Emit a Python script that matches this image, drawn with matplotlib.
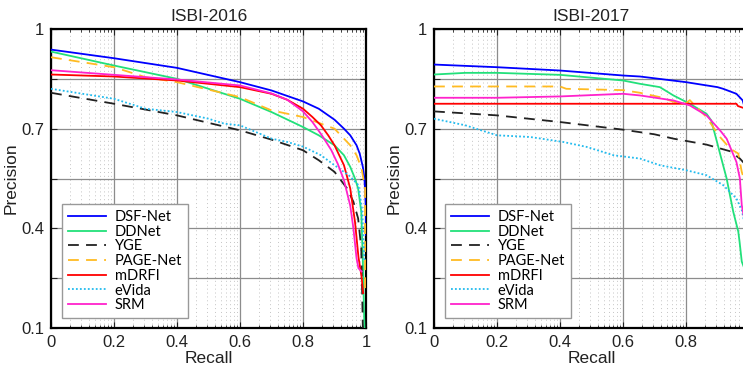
import matplotlib
matplotlib.use("Agg")
import matplotlib.pyplot as plt
import numpy as np

# ---- ISBI-2016 (recall, precision) ----
r16_dsf = [0, 0.2, 0.4, 0.6, 0.7, 0.8, 0.85, 0.9, 0.93, 0.95, 0.97, 0.98, 0.99, 0.995, 0.998, 1.0, 1.0]
p16_dsf = [0.938, 0.912, 0.883, 0.84, 0.815, 0.782, 0.76, 0.727, 0.70, 0.68, 0.65, 0.625, 0.585,
           0.55, 0.50, 0.45, 0.38]

r16_dd = [0, 0.2, 0.4, 0.6, 0.7, 0.8, 0.85, 0.9, 0.93, 0.95, 0.965, 0.975, 0.985, 0.99, 0.995]
p16_dd = [0.932, 0.89, 0.85, 0.79, 0.75, 0.705, 0.68, 0.65, 0.62, 0.585, 0.55, 0.52, 0.45, 0.3, 0.1]

r16_yge = [0, 0.2, 0.4, 0.6, 0.7, 0.8, 0.85, 0.9, 0.94, 0.96, 0.975, 0.985, 0.99]
p16_yge = [0.808, 0.775, 0.74, 0.695, 0.667, 0.635, 0.605, 0.57, 0.52, 0.48, 0.43, 0.34, 0.1]

r16_page = [0, 0.2, 0.3, 0.4, 0.6, 0.7, 0.8, 0.9, 0.93, 0.95, 0.97, 0.986, 0.997, 0.997]
p16_page = [0.915, 0.885, 0.855, 0.84, 0.795, 0.755, 0.735, 0.70, 0.67, 0.65, 0.62, 0.58, 0.52, 0.2]

r16_mdrfi = [0, 0.2, 0.4, 0.6, 0.7, 0.75, 0.8, 0.83, 0.857, 0.88, 0.9, 0.93, 0.95, 0.965, 0.976,
             0.986, 0.991]
p16_mdrfi = [0.863, 0.857, 0.845, 0.825, 0.805, 0.787, 0.76, 0.735, 0.71, 0.68, 0.65, 0.59, 0.52,
             0.42, 0.314, 0.254, 0.205]

r16_evida = [0, 0.1, 0.2, 0.3, 0.4, 0.5, 0.55, 0.6, 0.65, 0.7, 0.75, 0.8, 0.857, 0.9, 0.95,
             0.976, 0.987, 0.995]
p16_evida = [0.82, 0.805, 0.79, 0.76, 0.75, 0.73, 0.715, 0.71, 0.69, 0.67, 0.66, 0.646, 0.62,
             0.59, 0.556, 0.53, 0.46, 0.3]

r16_srm = [0, 0.2, 0.4, 0.6, 0.7, 0.75, 0.8, 0.83, 0.86, 0.89, 0.91, 0.93, 0.95, 0.96, 0.97,
           0.976, 0.986]
p16_srm = [0.876, 0.862, 0.848, 0.83, 0.806, 0.787, 0.752, 0.72, 0.68, 0.635, 0.595, 0.545,
           0.468, 0.40, 0.31, 0.28, 0.27]

# ---- ISBI-2017 ----
r17_dsf = [0, 0.2, 0.4, 0.6, 0.654, 0.8, 0.9, 0.918, 0.96, 0.98, 0.99, 1.0]
p17_dsf = [0.893, 0.885, 0.875, 0.86, 0.857, 0.84, 0.825, 0.82, 0.805, 0.785, 0.75, 0.6]

r17_dd = [0, 0.1, 0.2, 0.4, 0.6, 0.654, 0.717, 0.76, 0.812, 0.865, 0.88, 0.897, 0.908, 0.929,
          0.95, 0.966, 0.97, 0.977, 0.985, 1.0]
p17_dd = [0.863, 0.868, 0.868, 0.862, 0.845, 0.835, 0.825, 0.80, 0.775, 0.745, 0.725, 0.665,
          0.625, 0.55, 0.45, 0.39, 0.36, 0.30, 0.28, 0.25]

r17_yge = [0, 0.2, 0.4, 0.6, 0.7, 0.76, 0.865, 0.94, 0.971, 1.0]
p17_yge = [0.752, 0.74, 0.72, 0.697, 0.683, 0.67, 0.652, 0.632, 0.61, 0.58]

r17_page = [0, 0.2, 0.4, 0.42, 0.6, 0.654, 0.717, 0.77, 0.8, 0.812, 0.833, 0.865, 0.886, 0.908,
            0.94, 0.966, 0.977, 1.0]
p17_page = [0.827, 0.827, 0.827, 0.82, 0.816, 0.808, 0.795, 0.778, 0.776, 0.786, 0.765, 0.735,
            0.705, 0.675, 0.64, 0.625, 0.57, 0.5]

r17_mdrfi = [0, 0.2, 0.4, 0.6, 0.8, 0.96, 0.965, 0.99, 1.0]
p17_mdrfi = [0.775, 0.775, 0.775, 0.775, 0.775, 0.775, 0.768, 0.76, 0.4]

r17_evida = [0, 0.1, 0.2, 0.305, 0.41, 0.485, 0.57, 0.654, 0.717, 0.8, 0.865, 0.918, 0.96, 0.977, 1.0]
p17_evida = [0.73, 0.71, 0.68, 0.675, 0.66, 0.645, 0.62, 0.61, 0.59, 0.575, 0.56, 0.53, 0.49,
             0.455, 0.35]

r17_srm = [0, 0.2, 0.4, 0.6, 0.654, 0.76, 0.812, 0.865, 0.908, 0.929, 0.96, 0.971, 0.977, 1.0]
p17_srm = [0.793, 0.793, 0.797, 0.805, 0.80, 0.785, 0.77, 0.74, 0.695, 0.67, 0.60, 0.55, 0.47, 0.35]

METHODS = ["DSF-Net", "DDNet", "YGE", "PAGE-Net", "mDRFI", "eVida", "SRM"]
STYLES = {
    "DSF-Net": {"color": "#0000ff", "ls": "-"},
    "DDNet": {"color": "#22e07a", "ls": "-"},
    "YGE": {"color": "#222222", "ls": (0, (6, 4))},
    "PAGE-Net": {"color": "#ffbb22", "ls": (0, (6, 4))},
    "mDRFI": {"color": "#ff0000", "ls": "-"},
    "eVida": {"color": "#22bbee", "ls": (0, (1, 1.2))},
    "SRM": {"color": "#ff22cc", "ls": "-"},
}

DATA16 = [(r16_dsf, p16_dsf), (r16_dd, p16_dd), (r16_yge, p16_yge), (r16_page, p16_page),
          (r16_mdrfi, p16_mdrfi), (r16_evida, p16_evida), (r16_srm, p16_srm)]
DATA17 = [(r17_dsf, p17_dsf), (r17_dd, p17_dd), (r17_yge, p17_yge), (r17_page, p17_page),
          (r17_mdrfi, p17_mdrfi), (r17_evida, p17_evida), (r17_srm, p17_srm)]

X_LABELS = ["0", "0.2", "0.4", "0.6", "0.8", "1"]
Y_LABELS = ["0.1", "", "0.4", "", "0.7", "", "1"]

plt.rcParams['font.family'] = ['Liberation Sans', 'DejaVu Sans']

W, H = 743, 377


def draw_panel(ax, data, title, xlabels):
    for name, (r, p) in zip(METHODS, data):
        st = STYLES[name]
        ax.plot(r, p, color=st["color"], ls=st["ls"], lw=1.3, label=name, zorder=3)

    ax.set_xlim(0, 1)
    ax.set_ylim(0.1, 1)

    ax.set_xticks(np.arange(0, 1.01, 0.2))
    ax.set_xticklabels(xlabels)
    ax.set_yticks(np.arange(0.1, 1.001, 0.15))
    ax.set_yticklabels(Y_LABELS)

    # matlab-style log minor grid inside each 0.2 interval
    minors = [m + 0.2 * np.log10(k) for m in np.arange(0, 1.0, 0.2) for k in range(2, 10)]
    ax.set_xticks(minors, minor=True)

    ax.grid(True, which="major", color="#8c8c8c", lw=0.9, zorder=1)
    ax.grid(True, which="minor", axis="x", color="#c4c4c4", ls=(0, (1, 3)), lw=0.7, zorder=1)
    ax.tick_params(which="both", direction="in", top=True, right=True, labelsize=12,
                   colors="#222222", pad=5)
    ax.tick_params(which="major", length=4)
    ax.tick_params(which="minor", length=2)
    for s in ax.spines.values():
        s.set_linewidth(1.6)
        s.set_color("black")

    ax.set_title(title, fontsize=12.5, pad=6, color="#222222")
    ax.set_xlabel("Recall", fontsize=12.5, labelpad=1, color="#222222")
    ax.set_ylabel("Precision", fontsize=12.5, labelpad=2, color="#222222")

    leg = ax.legend(loc="lower left", bbox_to_anchor=(0.035, 0.033), borderaxespad=0,
                    fancybox=False, framealpha=1, edgecolor="#999999",
                    prop={"family": "Lato", "size": 10.5}, handlelength=2.6,
                    labelspacing=0.05, borderpad=0.4, handletextpad=0.6)
    leg.get_frame().set_linewidth(1.0)
    leg.set_zorder(5)


fig = plt.figure(figsize=(W / 100, H / 100), dpi=100)
ax1 = fig.add_axes([51 / W, (H - 328) / H, 315 / W, 299 / H])
ax2 = fig.add_axes([434 / W, (H - 328) / H, 315 / W, 299 / H])

draw_panel(ax1, DATA16, "ISBI-2016", X_LABELS)
# the right panel runs past the figure edge, so its last label is not shown
draw_panel(ax2, DATA17, "ISBI-2017", X_LABELS[:-1] + [""])

fig.savefig("out.png", dpi=100)
